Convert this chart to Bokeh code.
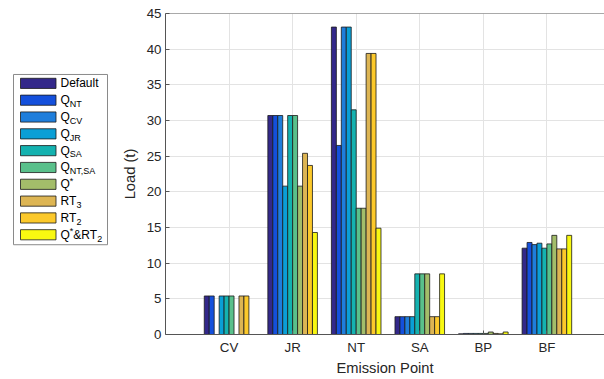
from bokeh.plotting import figure
from bokeh.layouts import row
from bokeh.models import Range1d, FixedTicker, ColumnDataSource, Span
from bokeh.core.properties import value
from bokeh.embed import file_html
from bokeh.resources import INLINE

# ---------------- data ----------------
categories = ["CV", "JR", "NT", "SA", "BP", "BF"]
legend_labels = ["Default", "Q_{NT}", "Q_{CV}", "Q_{JR}", "Q_{SA}", "Q_{NT,SA}",
                 "Q^{*}", "RT_{3}", "RT_{2}", "Q^{*}&RT_{2}"]
colors = ["#33288a", "#1450dc", "#1f7edb", "#0a9fd6", "#14b2b0", "#59c08b",
          "#a3bd6a", "#ddb553", "#fcc92b", "#f8f811"]

default = [5.4, 30.7, 43.1, 2.5, 0.1, 12.1]
q_nt = [5.4, 30.7, 26.5, 2.5, 0.15, 12.9]
q_cv = [0.0, 30.7, 43.1, 2.5, 0.15, 12.6]
q_jr = [5.4, 20.8, 43.1, 2.5, 0.15, 12.8]
q_sa = [5.4, 30.7, 31.5, 8.5, 0.15, 12.1]
q_ntsa = [5.4, 30.7, 17.7, 8.5, 0.15, 12.7]
q_star = [0.0, 20.8, 17.7, 8.5, 0.35, 13.9]
rt3 = [5.4, 25.4, 39.4, 2.5, 0.15, 12.0]
rt2 = [5.4, 23.7, 39.4, 2.5, 0.1, 12.0]
q_star_rt2 = [0.0, 14.3, 14.9, 8.5, 0.35, 13.9]
series = [default, q_nt, q_cv, q_jr, q_sa, q_ntsa, q_star, rt3, rt2, q_star_rt2]

y_ticks = list(range(0, 46, 5))

FONT = "Liberation Sans"
AX_COL = "#555555"
TXT_COL = "#262626"

TOTAL_W, H = 604, 379
LW = 118
W = TOTAL_W - LW

# ---------------- main chart ----------------
p = figure(width=W, height=H, output_backend="svg", toolbar_location=None,
           x_range=Range1d(0, (W - 44) / 64.0), y_range=Range1d(0, 45),
           min_border_left=44, min_border_right=0, min_border_top=13, min_border_bottom=45)
p.outline_line_color = None
p.background_fill_color = "white"

n = len(series)
bw = 0.078
for j, vals in enumerate(series):
    xs = [i + 1 + (j - (n - 1) / 2.0) * bw for i in range(len(categories))]
    src = ColumnDataSource(dict(x=xs, top=vals))
    p.vbar(x="x", top="top", bottom=0, width=bw, source=src,
           fill_color=colors[j], line_color="#1a1a1a", line_width=0.8)

p.xaxis.ticker = FixedTicker(ticks=list(range(1, len(categories) + 1)))
p.xaxis.major_label_overrides = {i + 1: c for i, c in enumerate(categories)}
p.yaxis.ticker = FixedTicker(ticks=y_ticks)
p.xaxis.axis_label = "Emission Point"
p.yaxis.axis_label = "Load (t)"
for ax in (p.xaxis[0], p.yaxis[0]):
    ax.axis_line_color = AX_COL
    ax.major_tick_line_color = AX_COL
    ax.major_tick_in = 4
    ax.major_tick_out = 0
    ax.minor_tick_line_color = None
    ax.major_label_text_font = FONT
    ax.major_label_text_font_size = "13.3px"
    ax.major_label_text_color = TXT_COL
    ax.axis_label_text_font = FONT
    ax.axis_label_text_font_size = "14.7px"
    ax.axis_label_text_font_style = "normal"
    ax.axis_label_text_color = TXT_COL
p.xaxis.major_label_standoff = 5
p.xaxis.axis_label_standoff = 2
p.yaxis.major_label_standoff = 4
p.yaxis.axis_label_standoff = 6

# top border of the axes box
p.add_layout(Span(location=45, dimension="width", line_color=AX_COL, line_width=1))

p.xgrid.ticker = FixedTicker(ticks=list(range(1, len(categories) + 1)))
p.ygrid.ticker = FixedTicker(ticks=y_ticks)
p.xgrid.grid_line_color = "#e3e3e3"
p.ygrid.grid_line_color = "#e3e3e3"

# ---------------- legend (drawn as its own panel) ----------------
lg = figure(width=LW, height=H, output_backend="svg", toolbar_location=None,
            x_range=Range1d(0, LW), y_range=Range1d(H, 0),
            min_border=0, x_axis_type=None, y_axis_type=None)
lg.outline_line_color = None
lg.xgrid.visible = False
lg.ygrid.visible = False

# legend box
lg.quad(left=[13], right=[107], top=[72], bottom=[273], fill_color="white",
        line_color="#8a8a8a", line_width=1)

row_y = [82.5 + 19.86 * i for i in range(len(legend_labels))]
lg.quad(left=[20] * len(row_y), right=[55.5] * len(row_y),
        top=[y - 6 for y in row_y], bottom=[y + 6 for y in row_y],
        fill_color=colors, line_color="#1a1a1a", line_width=0.8)

# widths (em) of Liberation Sans glyphs used to place sub/superscripts
em = {"Q": 0.778, "R": 0.722, "T": 0.611, "&": 0.667, "*": 0.389, "D": 0.722}
FS, SS = 12.0, 9.0


def parse(label):
    segs = []
    i = 0
    while i < len(label):
        if label[i] in "_^" and i + 1 < len(label) and label[i + 1] == "{":
            j = label.index("}", i)
            segs.append((label[i + 2:j], "sub" if label[i] == "_" else "sup"))
            i = j + 1
        else:
            j = i
            while j < len(label) and not (label[j] in "_^" and j + 1 < len(label) and label[j + 1] == "{"):
                j += 1
            segs.append((label[i:j], "norm"))
            i = j
    return segs


tx, ty, tt, tsz = [], [], [], []
for lab, yc in zip(legend_labels, row_y):
    x = 60.0
    for txt, kind in parse(lab):
        size = FS if kind == "norm" else SS
        dy = 0 if kind == "norm" else (4.5 if kind == "sub" else -4)
        tx.append(x)
        ty.append(yc + dy)
        tt.append(txt)
        tsz.append("%gpx" % size)
        x += sum(em.get(c, 0.556) for c in txt) * size
lg.text(x=tx, y=ty, text=tt, text_font_size=tsz, text_font=value(FONT),
        text_baseline="middle", text_align="left", text_color="#000000")

layout = row(lg, p)
open("out.html", "w").write(file_html(layout, INLINE))
